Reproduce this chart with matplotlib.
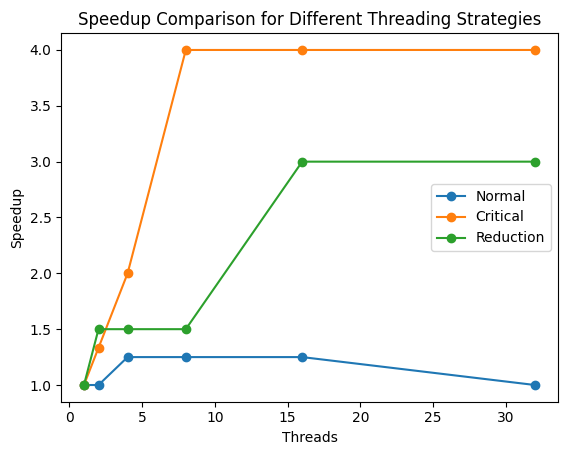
import matplotlib
matplotlib.use("Agg")
import matplotlib.pyplot as plt

threads = [1, 2, 4, 8, 16, 32]
speedup_normal = [1.0, 1.0, 1.25, 1.25, 1.25, 1.0]
speedup_critical = [1.0, 1.333, 2.0, 4.0, 4.0, 4.0]
speedup_reduction = [1.0, 1.5, 1.5, 1.5, 3.0, 3.0]

fig = plt.figure(figsize=(5.67, 4.55), dpi=100)
ax = fig.add_axes([0.1083, 0.117, 0.875, 0.810])
ax.plot(threads, speedup_normal, marker="o", label="Normal")
ax.plot(threads, speedup_critical, marker="o", label="Critical")
ax.plot(threads, speedup_reduction, marker="o", label="Reduction")
ax.set_title("Speedup Comparison for Different Threading Strategies")
ax.set_xlabel("Threads")
ax.set_ylabel("Speedup")
ax.legend(loc="center right")
fig.savefig("out.png", dpi=100)
